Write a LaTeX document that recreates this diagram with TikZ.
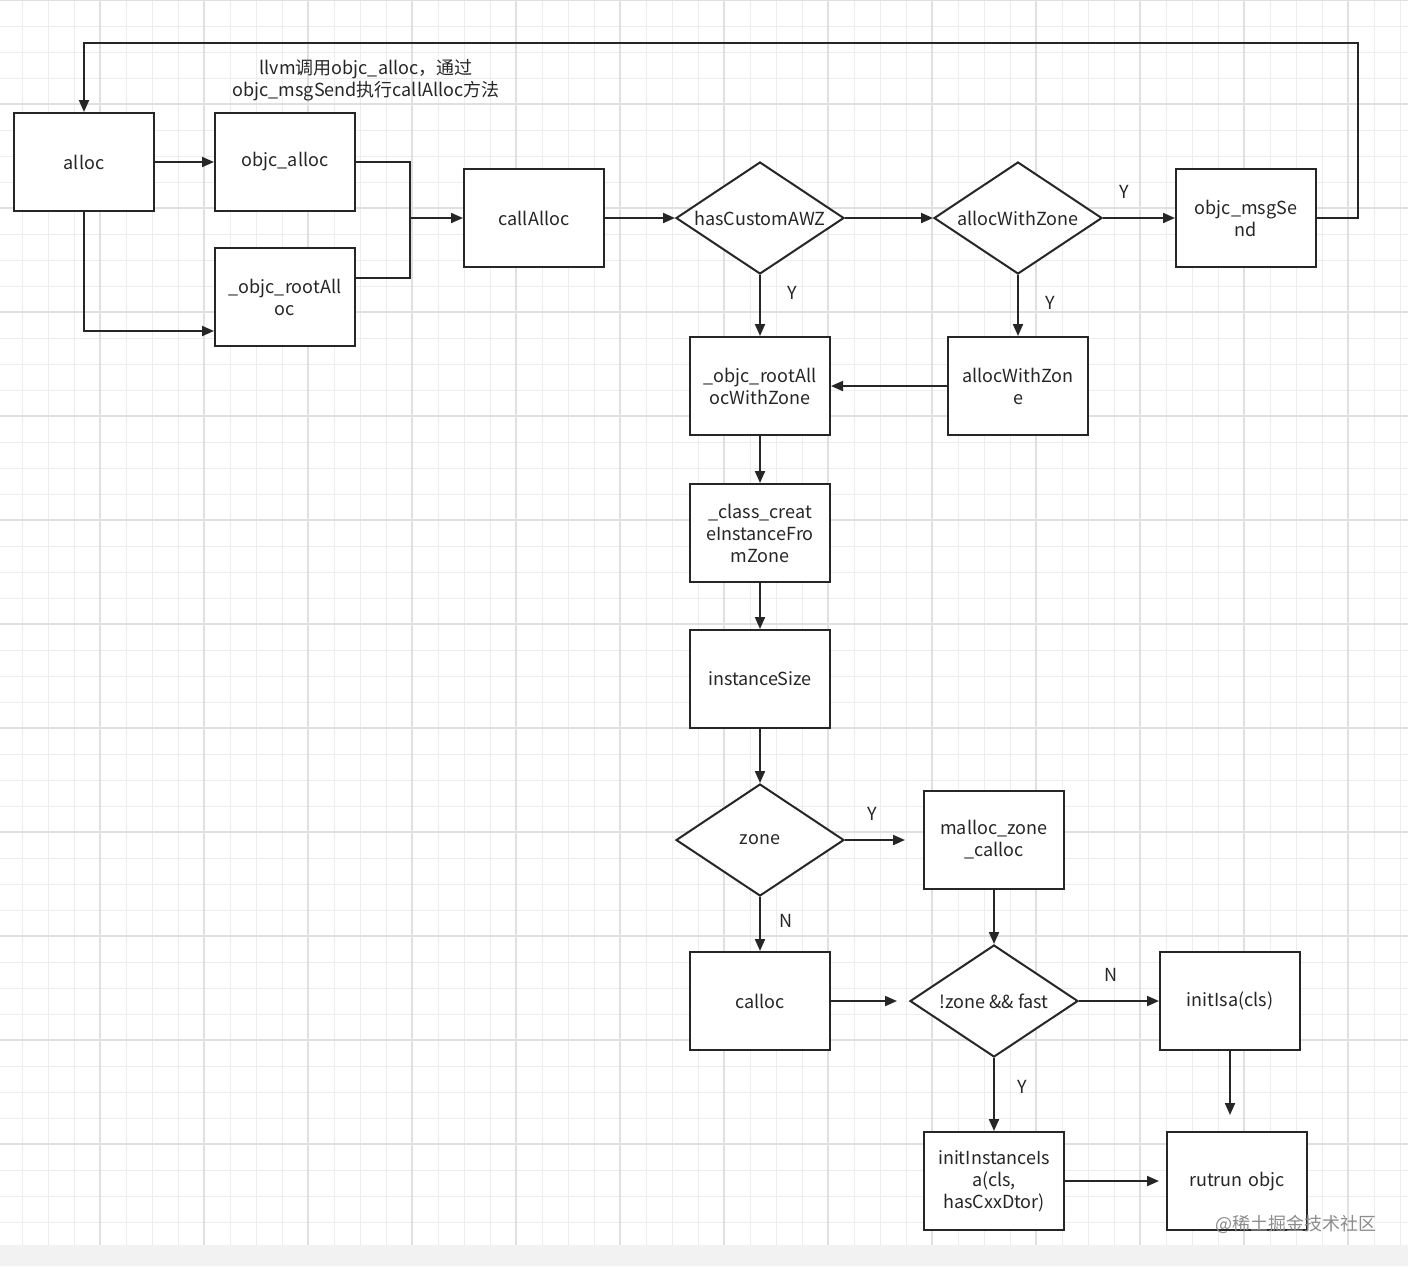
\documentclass[tikz,border=0pt]{standalone}
\usepackage{fontspec}
\setmainfont{Noto Sans CJK SC}
\usetikzlibrary{shapes.geometric,arrows.meta,calc}
\begin{document}
\begin{tikzpicture}[x=0.5pt,y=-0.5pt,
 every node/.style={font=\fontsize{9}{11}\selectfont,text=black!85},
 box/.style={draw=black!85,line width=1pt,fill=white,minimum width=70pt,minimum height=49pt,inner sep=1pt,align=center,text width=62pt},
 dia/.style={draw=black!85,line width=1pt,fill=white,diamond,aspect=1.5,minimum width=84pt,minimum height=56pt,inner sep=0pt,align=center},
 ar/.style={draw=black!85,line width=1pt,-{Triangle[length=6pt,width=5pt]}},
 lb/.style={font=\fontsize{9}{11}\selectfont}]
\useasboundingbox (0,0) rectangle (1408,1266);
\fill[white] (0,0) rectangle (1408,1266);
\foreach \i in {0,...,55} {\draw[black!7,line width=0.4pt] (\i*26-4,0) -- (\i*26-4,1245);}
\foreach \i in {0,...,48} {\draw[black!7,line width=0.4pt] (0,\i*26) -- (1408,\i*26);}
\foreach \i in {0,...,14} {\draw[black!12,line width=0.6pt] (\i*104-4,0) -- (\i*104-4,1245);}
\foreach \i in {0,...,12} {\draw[black!12,line width=0.6pt] (0,\i*104) -- (1408,\i*104);}
\fill[black!5] (0,1245) rectangle (1408,1266);
\node[box] (alloc) at (84,162) {alloc};
\node[box] (oa) at (285,162) {objc\_alloc};
\node[box] (ra) at (285,297) {\_objc\_rootAll\\oc};
\node[box] (ca) at (534,218) {callAlloc};
\node[dia] (hc) at (760,218) {hasCustomAWZ};
\node[dia] (awd) at (1018,218) {allocWithZone};
\node[box] (ms) at (1246,218) {objc\_msgSe\\nd};
\node[box] (raw) at (760,386) {\_objc\_rootAll\\ocWithZone};
\node[box] (awb) at (1018,386) {allocWithZon\\e};
\node[box] (cc) at (760,533) {\_class\_creat\\eInstanceFro\\mZone};
\node[box] (is) at (760,679) {instanceSize};
\node[dia] (zn) at (760,840) {zone};
\node[box] (mz) at (994,840) {malloc\_zone\\\_calloc};
\node[box] (cl) at (760,1001) {calloc};
\node[dia] (zf) at (994,1001) {!zone \&\& fast};
\node[box] (ii) at (1230,1001) {initIsa(cls)};
\node[box] (iii) at (994,1181) {initInstanceIs\\a(cls,\\hasCxxDtor)};
\node[box] (ro) at (1237,1181) {rutrun objc};
\node[align=center] (note) at (366,80) {llvm调用objc\_alloc，通过\\objc\_msgSend执行callAlloc方法};
\node[text=black!45] (wm) at (1296,1224) {@稀土掘金技术社区};
\draw[ar] (alloc) -- (oa);
\draw[ar] (alloc.south) |- (ra.west |- 0,331);
\coordinate (j) at (410,218);
\draw[black!85,line width=1pt] (oa.east) -- (410,162) -- (410,278) -- (ra.east |- 0,278);
\draw[ar] (j) -- (ca);
\draw[ar] (ca) -- (hc);
\draw[ar] (hc) -- (awd);
\draw[ar] (awd) -- node[above=6pt,lb,pos=0.3]{Y} (ms);
\draw[ar] (ms.east |- 0,218) -- (1358,218) -- (1358,43) -- (84,43) -- (alloc.north);
\draw[ar] (hc) -- node[right=10pt,lb,pos=0.3]{Y} (raw);
\draw[ar] (awd) -- node[right=10pt,lb,pos=0.45]{Y} (awb);
\draw[ar] (awb) -- (raw);
\draw[ar] (raw) -- (cc);
\draw[ar] (cc) -- (is);
\draw[ar] (is) -- (zn);
\draw[ar] (zn.east) -- node[above=6pt,lb,pos=0.45]{Y} ($(mz.west)+(-18,0)$);
\draw[ar] (zn) -- node[right=6pt,lb,pos=0.45]{N} (cl);
\draw[ar] (cl.east) -- ($(zf.west)+(-12,0)$);
\draw[ar] (mz) -- (zf);
\draw[ar] (zf) -- node[above=6pt,lb,pos=0.4]{N} (ii);
\draw[ar] (zf) -- node[right=8pt,lb,pos=0.4]{Y} (iii);
\draw[ar] (ii.south) -- ($(ro.north -| ii.south)+(0,-16)$);
\draw[ar] (iii) -- ($(ro.west)+(-7,0)$);
\end{tikzpicture}
\end{document}
